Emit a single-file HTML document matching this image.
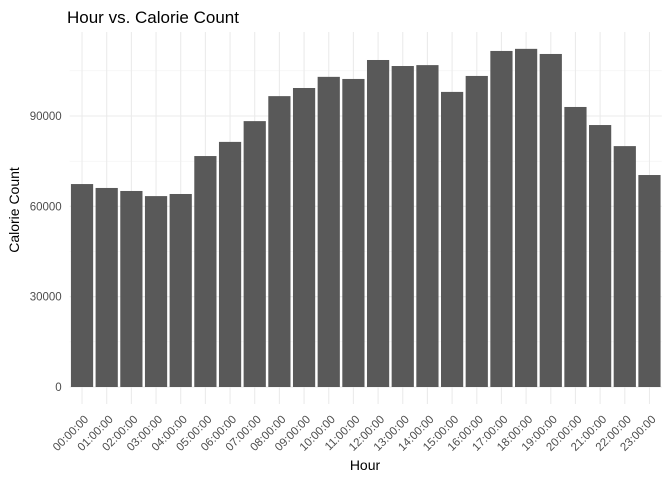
<!DOCTYPE html>
<html><head><meta charset="utf-8"><style>
body{margin:0;background:#fff;}
svg{font-family:"Liberation Sans",sans-serif;}
</style></head><body>
<svg id="chart" width="672" height="480" viewBox="0 0 672 480">
<text x="67" y="23" font-size="17" fill="#000">Hour vs. Calorie Count</text>
<g id="grid"></g><g id="bars"></g><g id="yticks"></g><g id="xticks"></g>
<text x="365" y="470" font-size="14" text-anchor="middle" fill="#000">Hour</text>
<text transform="translate(19,210) rotate(-90)" font-size="14" text-anchor="middle" fill="#000">Calorie Count</text>
</svg>
<script>
const categories=["00:00:00","01:00:00","02:00:00","03:00:00","04:00:00","05:00:00","06:00:00","07:00:00","08:00:00","09:00:00","10:00:00","11:00:00","12:00:00","13:00:00","14:00:00","15:00:00","16:00:00","17:00:00","18:00:00","19:00:00","20:00:00","21:00:00","22:00:00","23:00:00"];
const calories=[67400,66100,65100,63400,64100,76700,81400,88300,96600,99300,103000,102300,108600,106600,106900,98000,103300,111600,112300,110600,93000,87000,80000,70400];
const yTicks=[0,30000,60000,90000];
const yMinor=[15000,45000,75000,105000];
const NS="http://www.w3.org/2000/svg";
const L=69.7,R=661.8,T=32,B=387,PB=404;
const step=(R-L)/categories.length;
function xc(i){return L+step*(i+0.5);}
function y(v){return B-v*(271/90000);}
function mk(tag,attrs,parent){const e=document.createElementNS(NS,tag);for(const k in attrs)e.setAttribute(k,attrs[k]);document.getElementById(parent).appendChild(e);return e;}
yMinor.forEach(v=>{const e=mk('line',{x1:L,x2:R,y1:y(v),y2:y(v),stroke:'#f2f2f2','stroke-width':0.6},'grid');

});
yTicks.forEach(v=>{const e=mk('line',{x1:L,x2:R,y1:y(v),y2:y(v),stroke:'#ebebeb','stroke-width':1.1},'grid');


const t=mk('text',{x:L-8,y:y(v)+4,'font-size':11.5,'text-anchor':'end',fill:'#4d4d4d'},'yticks');t.textContent=v;

});
categories.forEach((c,i)=>{const g=mk('line',{x1:xc(i),x2:xc(i),y1:T,y2:PB,stroke:'#ebebeb','stroke-width':1.1},'grid');


const w=step*0.9;
const b=mk('rect',{x:xc(i)-w/2,y:y(calories[i]),width:w,height:B-y(calories[i]),fill:'#595959'},'bars');


const t=mk('text',{'font-size':11.5,'text-anchor':'end',fill:'#4d4d4d',transform:`translate(${xc(i)+7},${PB+16}) rotate(-45)`},'xticks');t.textContent=c;

});
</script>
</body></html>
